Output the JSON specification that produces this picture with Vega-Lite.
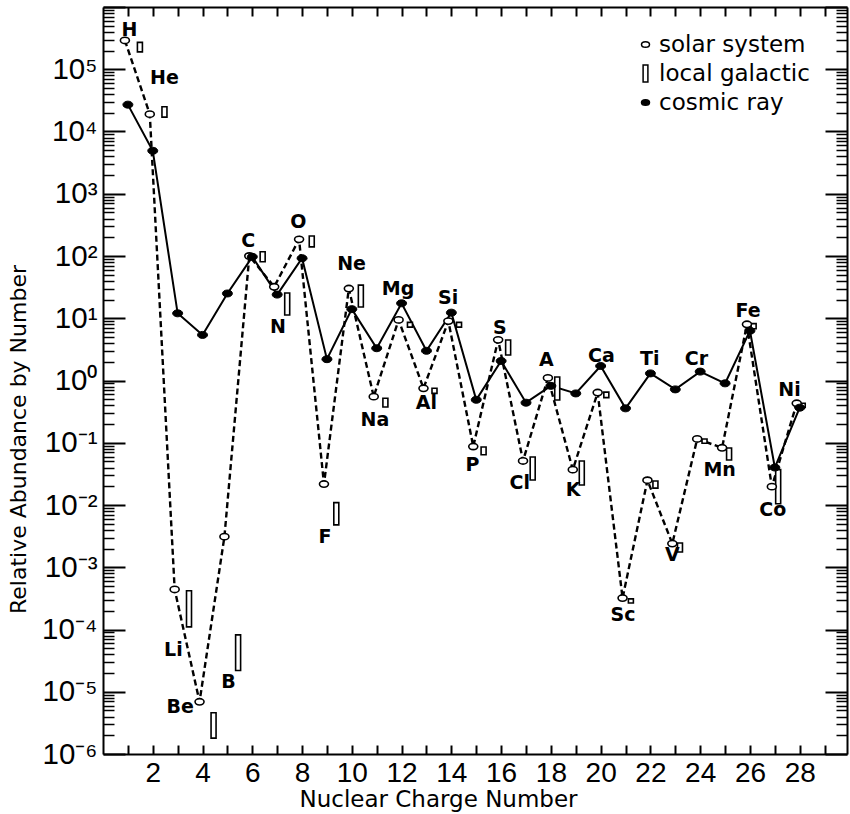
{
  "$schema": "https://vega.github.io/schema/vega-lite/v6.json",
  "autosize": "none",
  "width": 744,
  "height": 747,
  "padding": {"left": 103, "top": 7, "right": 3, "bottom": 60},
  "background": "white",
  "config": {
    "view": {"stroke": null},
    "axis": {"grid": false, "domainColor": "black", "tickColor": "black", "labelColor": "black", "titleColor": "black"}
  },
  "datasets": {
    "abundance": [
      {"Z": 1, "element": "H", "source": "solar system", "value": 290000},
      {"Z": 2, "element": "He", "source": "solar system", "value": 19000},
      {"Z": 3, "element": "Li", "source": "solar system", "value": 0.00044},
      {"Z": 4, "element": "Be", "source": "solar system", "value": 0.0000069},
      {"Z": 5, "element": "B", "source": "solar system", "value": 0.0031},
      {"Z": 6, "element": "C", "source": "solar system", "value": 100},
      {"Z": 7, "element": "N", "source": "solar system", "value": 32},
      {"Z": 8, "element": "O", "source": "solar system", "value": 185},
      {"Z": 9, "element": "F", "source": "solar system", "value": 0.0217},
      {"Z": 10, "element": "Ne", "source": "solar system", "value": 30},
      {"Z": 11, "element": "Na", "source": "solar system", "value": 0.55},
      {"Z": 12, "element": "Mg", "source": "solar system", "value": 9.4},
      {"Z": 13, "element": "Al", "source": "solar system", "value": 0.75},
      {"Z": 14, "element": "Si", "source": "solar system", "value": 9.0},
      {"Z": 15, "element": "P", "source": "solar system", "value": 0.087},
      {"Z": 16, "element": "S", "source": "solar system", "value": 4.5},
      {"Z": 17, "element": "Cl", "source": "solar system", "value": 0.051},
      {"Z": 18, "element": "A", "source": "solar system", "value": 1.1},
      {"Z": 19, "element": "K", "source": "solar system", "value": 0.037},
      {"Z": 20, "element": "Ca", "source": "solar system", "value": 0.64},
      {"Z": 21, "element": "Sc", "source": "solar system", "value": 0.00032},
      {"Z": 22, "element": "Ti", "source": "solar system", "value": 0.025},
      {"Z": 23, "element": "V", "source": "solar system", "value": 0.0024},
      {"Z": 24, "element": "Cr", "source": "solar system", "value": 0.115},
      {"Z": 25, "element": "Mn", "source": "solar system", "value": 0.083},
      {"Z": 26, "element": "Fe", "source": "solar system", "value": 8.0},
      {"Z": 27, "element": "Co", "source": "solar system", "value": 0.0197},
      {"Z": 28, "element": "Ni", "source": "solar system", "value": 0.43},
      {"Z": 1, "element": "H", "source": "cosmic ray", "value": 27000},
      {"Z": 2, "element": "He", "source": "cosmic ray", "value": 4900},
      {"Z": 3, "element": "Li", "source": "cosmic ray", "value": 12},
      {"Z": 4, "element": "Be", "source": "cosmic ray", "value": 5.4},
      {"Z": 5, "element": "B", "source": "cosmic ray", "value": 25},
      {"Z": 6, "element": "C", "source": "cosmic ray", "value": 97},
      {"Z": 7, "element": "N", "source": "cosmic ray", "value": 24},
      {"Z": 8, "element": "O", "source": "cosmic ray", "value": 92},
      {"Z": 9, "element": "F", "source": "cosmic ray", "value": 2.2},
      {"Z": 10, "element": "Ne", "source": "cosmic ray", "value": 14},
      {"Z": 11, "element": "Na", "source": "cosmic ray", "value": 3.3},
      {"Z": 12, "element": "Mg", "source": "cosmic ray", "value": 17.4},
      {"Z": 13, "element": "Al", "source": "cosmic ray", "value": 3.0},
      {"Z": 14, "element": "Si", "source": "cosmic ray", "value": 12.3},
      {"Z": 15, "element": "P", "source": "cosmic ray", "value": 0.49},
      {"Z": 16, "element": "S", "source": "cosmic ray", "value": 2.06},
      {"Z": 17, "element": "Cl", "source": "cosmic ray", "value": 0.44},
      {"Z": 18, "element": "A", "source": "cosmic ray", "value": 0.82},
      {"Z": 19, "element": "K", "source": "cosmic ray", "value": 0.62},
      {"Z": 20, "element": "Ca", "source": "cosmic ray", "value": 1.71},
      {"Z": 21, "element": "Sc", "source": "cosmic ray", "value": 0.357},
      {"Z": 22, "element": "Ti", "source": "cosmic ray", "value": 1.3},
      {"Z": 23, "element": "V", "source": "cosmic ray", "value": 0.72},
      {"Z": 24, "element": "Cr", "source": "cosmic ray", "value": 1.39},
      {"Z": 25, "element": "Mn", "source": "cosmic ray", "value": 0.9},
      {"Z": 26, "element": "Fe", "source": "cosmic ray", "value": 6.3},
      {"Z": 27, "element": "Co", "source": "cosmic ray", "value": 0.04},
      {"Z": 28, "element": "Ni", "source": "cosmic ray", "value": 0.366}
    ],
    "galactic": [
      {"Z": 1, "lo": 190000, "hi": 270000},
      {"Z": 2, "lo": 17000, "hi": 25000},
      {"Z": 3, "lo": 0.00011, "hi": 0.00042},
      {"Z": 4, "lo": 0.0000018, "hi": 0.0000046},
      {"Z": 5, "lo": 0.000022, "hi": 0.000082},
      {"Z": 6, "lo": 81, "hi": 117},
      {"Z": 7, "lo": 11.3, "hi": 25.5},
      {"Z": 8, "lo": 140, "hi": 209},
      {"Z": 9, "lo": 0.0048, "hi": 0.0109},
      {"Z": 10, "lo": 15.2, "hi": 34},
      {"Z": 11, "lo": 0.375, "hi": 0.52},
      {"Z": 12, "lo": 7.2, "hi": 8.6},
      {"Z": 13, "lo": 0.62, "hi": 0.75},
      {"Z": 14, "lo": 7.2, "hi": 8.6},
      {"Z": 15, "lo": 0.064, "hi": 0.0855},
      {"Z": 16, "lo": 2.57, "hi": 4.48},
      {"Z": 17, "lo": 0.0252, "hi": 0.059},
      {"Z": 18, "lo": 0.486, "hi": 1.14},
      {"Z": 19, "lo": 0.021, "hi": 0.051},
      {"Z": 20, "lo": 0.53, "hi": 0.65},
      {"Z": 21, "lo": 0.000267, "hi": 0.00031},
      {"Z": 22, "lo": 0.0187, "hi": 0.0243},
      {"Z": 23, "lo": 0.00176, "hi": 0.00245},
      {"Z": 24, "lo": 0.098, "hi": 0.115},
      {"Z": 25, "lo": 0.0528, "hi": 0.0824},
      {"Z": 26, "lo": 6.8, "hi": 8.2},
      {"Z": 27, "lo": 0.0105, "hi": 0.037},
      {"Z": 28, "lo": 0.37, "hi": 0.43}
    ],
    "labels": [
      {"element": "H", "lx": 1.06, "ly": 430000},
      {"element": "He", "lx": 2.47, "ly": 72000},
      {"element": "Li", "lx": 2.83, "ly": 0.000047},
      {"element": "Be", "lx": 3.1, "ly": 0.0000056},
      {"element": "B", "lx": 5.04, "ly": 0.0000145},
      {"element": "C", "lx": 5.84, "ly": 176},
      {"element": "N", "lx": 7.03, "ly": 7.2},
      {"element": "O", "lx": 7.85, "ly": 356},
      {"element": "F", "lx": 8.92, "ly": 0.0031},
      {"element": "Ne", "lx": 9.99, "ly": 73.6},
      {"element": "Na", "lx": 10.93, "ly": 0.232},
      {"element": "Mg", "lx": 11.86, "ly": 29.2},
      {"element": "Al", "lx": 13.0, "ly": 0.43},
      {"element": "Si", "lx": 13.87, "ly": 20.9},
      {"element": "P", "lx": 14.85, "ly": 0.044},
      {"element": "S", "lx": 15.95, "ly": 6.9},
      {"element": "Cl", "lx": 16.75, "ly": 0.0226},
      {"element": "A", "lx": 17.82, "ly": 2.16},
      {"element": "K", "lx": 18.89, "ly": 0.0176},
      {"element": "Ca", "lx": 20.03, "ly": 2.48},
      {"element": "Sc", "lx": 20.9, "ly": 0.000171},
      {"element": "Ti", "lx": 21.97, "ly": 2.19},
      {"element": "V", "lx": 22.88, "ly": 0.00159},
      {"element": "Cr", "lx": 23.85, "ly": 2.19},
      {"element": "Mn", "lx": 24.78, "ly": 0.0365},
      {"element": "Fe", "lx": 25.92, "ly": 13.2},
      {"element": "Co", "lx": 26.92, "ly": 0.0084},
      {"element": "Ni", "lx": 27.59, "ly": 0.7}
    ]
  },
  "resolve": {"scale": {"x": "independent"}, "axis": {"x": "independent", "y": "independent"}},
  "layer": [
    {
      "data": {"name": "abundance"},
      "transform": [{"filter": "datum.source === 'cosmic ray'"}],
      "mark": {"type": "line", "color": "black", "strokeWidth": 2},
      "encoding": {
        "x": {
          "field": "Z", "type": "quantitative",
          "scale": {"domain": [0, 29.9], "nice": false, "zero": false},
          "axis": {
            "orient": "bottom",
            "values": [1,2,3,4,5,6,7,8,9,10,11,12,13,14,15,16,17,18,19,20,21,22,23,24,25,26,27,28,29],
            "tickSize": -9, "tickWidth": 2, "domainWidth": 2,
            "labelExpr": "datum.value % 2 === 0 ? datum.label : ''",
            "labelFont": "Liberation Sans", "labelFontSize": 28,
            "labelBaseline": "alphabetic", "labelPadding": 36.5, "labelOverlap": false, "labelFlush": false,
            "title": "Nuclear Charge Number",
            "titleFont": "DejaVu Sans", "titleFontSize": 23, "titleFontWeight": "normal",
            "titleX": 335, "titleY": 52, "titleAlign": "center", "titleBaseline": "alphabetic"
          }
        },
        "y": {
          "field": "value", "type": "quantitative",
          "scale": {"type": "log", "domain": [0.000001, 1000000], "nice": false},
          "axis": {
            "orient": "left",
            "values": [0.000001, 0.00001, 0.0001, 0.001, 0.01, 0.1, 1, 10, 100, 1000, 10000, 100000, 1000000],
            "tickSize": -22, "tickWidth": 2, "domainWidth": 2,
            "labelExpr": "datum.value >= 1e6 ? '' : '10' + (datum.value < 1 ? '⁻' : '') + ['⁰','¹','²','³','⁴','⁵','⁶'][abs(round(log(datum.value) / LN10))]",
            "labelFont": "Liberation Sans", "labelFontSize": 29.5,
            "labelBaseline": "middle", "labelPadding": 28, "labelOverlap": false, "labelFlush": false,
            "title": "Relative Abundance by Number",
            "titleFont": "DejaVu Sans", "titleFontSize": 22, "titleFontWeight": "normal",
            "titleAngle": -90, "titleX": -78, "titleY": 432, "titleAlign": "center", "titleBaseline": "alphabetic"
          }
        }
      }
    },
    {
      "data": {"name": "abundance"},
      "transform": [{"filter": "datum.source === 'solar system'"}],
      "mark": {"type": "line", "color": "black", "strokeWidth": 2.4, "strokeDash": [6, 3.5]},
      "encoding": {
        "x": {"field": "Z", "type": "quantitative", "scale": {"domain": [0.12, 30.02], "nice": false, "zero": false}, "axis": null},
        "y": {
          "field": "value", "type": "quantitative",
          "scale": {"type": "log", "domain": [0.000001, 1000000], "nice": false},
          "axis": {
            "orient": "right",
            "values": [0.000001, 0.00001, 0.0001, 0.001, 0.01, 0.1, 1, 10, 100, 1000, 10000, 100000, 1000000],
            "tickSize": -22, "tickWidth": 2, "domainWidth": 2, "labels": false, "title": null
          }
        }
      }
    },
    {
      "data": {"name": "galactic"},
      "mark": {"type": "bar", "width": 5, "fill": "white", "stroke": "black", "strokeWidth": 1.6},
      "encoding": {
        "x": {"field": "Z", "type": "quantitative", "scale": {"domain": [-0.3, 29.6], "nice": false, "zero": false}, "axis": null},
        "y": {"field": "lo", "type": "quantitative", "scale": {"type": "log", "domain": [0.000001, 1000000], "nice": false}, "axis": null},
        "y2": {"field": "hi"}
      }
    },
    {
      "data": {"name": "abundance"},
      "transform": [{"filter": "datum.source === 'solar system'"}],
      "mark": {"type": "point", "filled": true, "size": 81, "stroke": "black", "strokeWidth": 1.6, "opacity": 1},
      "encoding": {
        "x": {"field": "Z", "type": "quantitative", "scale": {"domain": [0.12, 30.02], "nice": false, "zero": false}, "axis": null},
        "y": {
          "field": "value", "type": "quantitative",
          "scale": {"type": "log", "domain": [0.000001, 1000000], "nice": false},
          "axis": {
            "orient": "right",
            "values": [0.000002,0.000003,0.000004,0.000005,0.000006,0.000007,0.000008,0.000009,0.00002,0.00003,0.00004,0.00005,0.00006,0.00007,0.00008,0.00009,0.0002,0.0003,0.0004,0.0005,0.0006,0.0007,0.0008,0.0009,0.002,0.003,0.004,0.005,0.006,0.007,0.008,0.009,0.02,0.03,0.04,0.05,0.06,0.07,0.08,0.09,0.2,0.3,0.4,0.5,0.6,0.7,0.8,0.9,2,3,4,5,6,7,8,9,20,30,40,50,60,70,80,90,200,300,400,500,600,700,800,900,2000,3000,4000,5000,6000,7000,8000,9000,20000,30000,40000,50000,60000,70000,80000,90000,200000,300000,400000,500000,600000,700000,800000,900000],
            "tickSize": -11, "tickWidth": 1.5, "domain": false, "labels": false, "title": null
          }
        },
        "shape": {
          "field": "source", "type": "nominal",
          "scale": {"domain": ["solar system", "local galactic", "cosmic ray"], "range": ["M-1,0A1,0.7,0,1,0,1,0A1,0.7,0,1,0,-1,0Z", "M-0.6,-2.1H0.6V2.1H-0.6Z", "M-1,0A1,0.7,0,1,0,1,0A1,0.7,0,1,0,-1,0Z"]},
          "legend": {"title": null, "orient": "none", "legendX": 531, "legendY": 26, "padding": 0, "labelFont": "DejaVu Sans", "labelFontSize": 23, "labelColor": "black", "symbolSize": 64, "symbolStrokeColor": "black", "symbolStrokeWidth": 1.5, "labelOffset": 2, "rowPadding": 5, "encoding": {"symbols": {"stroke": {"value": "black"}, "strokeWidth": {"value": 1.5}}}}
        },
        "fill": {
          "field": "source", "type": "nominal",
          "scale": {"domain": ["solar system", "local galactic", "cosmic ray"], "range": ["white", "white", "black"]},
          "legend": {"title": null, "orient": "none", "legendX": 531, "legendY": 26, "padding": 0, "labelFont": "DejaVu Sans", "labelFontSize": 23, "labelColor": "black", "symbolSize": 64, "symbolStrokeColor": "black", "symbolStrokeWidth": 1.5, "labelOffset": 2, "rowPadding": 5, "encoding": {"symbols": {"stroke": {"value": "black"}, "strokeWidth": {"value": 1.5}}}}
        }
      }
    },
    {
      "data": {"name": "abundance"},
      "transform": [{"filter": "datum.source === 'cosmic ray'"}],
      "mark": {"type": "point", "filled": true, "size": 100, "stroke": "black", "strokeWidth": 1, "opacity": 1},
      "encoding": {
        "x": {
          "field": "Z", "type": "quantitative",
          "scale": {"domain": [0, 29.9], "nice": false, "zero": false},
          "axis": {
            "orient": "top",
            "values": [1,2,3,4,5,6,7,8,9,10,11,12,13,14,15,16,17,18,19,20,21,22,23,24,25,26,27,28,29],
            "tickSize": -9, "tickWidth": 2, "domainWidth": 2, "labels": false, "title": null
          }
        },
        "y": {
          "field": "value", "type": "quantitative",
          "scale": {"type": "log", "domain": [0.000001, 1000000], "nice": false},
          "axis": {
            "orient": "left",
            "values": [0.000002,0.000003,0.000004,0.000005,0.000006,0.000007,0.000008,0.000009,0.00002,0.00003,0.00004,0.00005,0.00006,0.00007,0.00008,0.00009,0.0002,0.0003,0.0004,0.0005,0.0006,0.0007,0.0008,0.0009,0.002,0.003,0.004,0.005,0.006,0.007,0.008,0.009,0.02,0.03,0.04,0.05,0.06,0.07,0.08,0.09,0.2,0.3,0.4,0.5,0.6,0.7,0.8,0.9,2,3,4,5,6,7,8,9,20,30,40,50,60,70,80,90,200,300,400,500,600,700,800,900,2000,3000,4000,5000,6000,7000,8000,9000,20000,30000,40000,50000,60000,70000,80000,90000,200000,300000,400000,500000,600000,700000,800000,900000],
            "tickSize": -11, "tickWidth": 1.5, "domain": false, "labels": false, "title": null
          }
        },
        "shape": {
          "field": "source", "type": "nominal",
          "scale": {"domain": ["solar system", "local galactic", "cosmic ray"], "range": ["M-1,0A1,0.7,0,1,0,1,0A1,0.7,0,1,0,-1,0Z", "M-0.6,-2.1H0.6V2.1H-0.6Z", "M-1,0A1,0.7,0,1,0,1,0A1,0.7,0,1,0,-1,0Z"]},
          "legend": {"title": null, "orient": "none", "legendX": 531, "legendY": 26, "padding": 0, "labelFont": "DejaVu Sans", "labelFontSize": 23, "labelColor": "black", "symbolSize": 64, "symbolStrokeColor": "black", "symbolStrokeWidth": 1.5, "labelOffset": 2, "rowPadding": 5, "encoding": {"symbols": {"stroke": {"value": "black"}, "strokeWidth": {"value": 1.5}}}}
        },
        "fill": {
          "field": "source", "type": "nominal",
          "scale": {"domain": ["solar system", "local galactic", "cosmic ray"], "range": ["white", "white", "black"]},
          "legend": {"title": null, "orient": "none", "legendX": 531, "legendY": 26, "padding": 0, "labelFont": "DejaVu Sans", "labelFontSize": 23, "labelColor": "black", "symbolSize": 64, "symbolStrokeColor": "black", "symbolStrokeWidth": 1.5, "labelOffset": 2, "rowPadding": 5, "encoding": {"symbols": {"stroke": {"value": "black"}, "strokeWidth": {"value": 1.5}}}}
        }
      }
    },
    {
      "data": {"name": "labels"},
      "mark": {"type": "text", "font": "DejaVu Sans", "fontSize": 19, "fontWeight": "bold", "color": "black", "align": "center", "baseline": "middle"},
      "encoding": {
        "x": {"field": "lx", "type": "quantitative", "scale": {"domain": [0, 29.9], "nice": false, "zero": false}, "axis": null},
        "y": {"field": "ly", "type": "quantitative", "scale": {"type": "log", "domain": [0.000001, 1000000], "nice": false}, "axis": null},
        "text": {"field": "element"}
      }
    }
  ]
}
